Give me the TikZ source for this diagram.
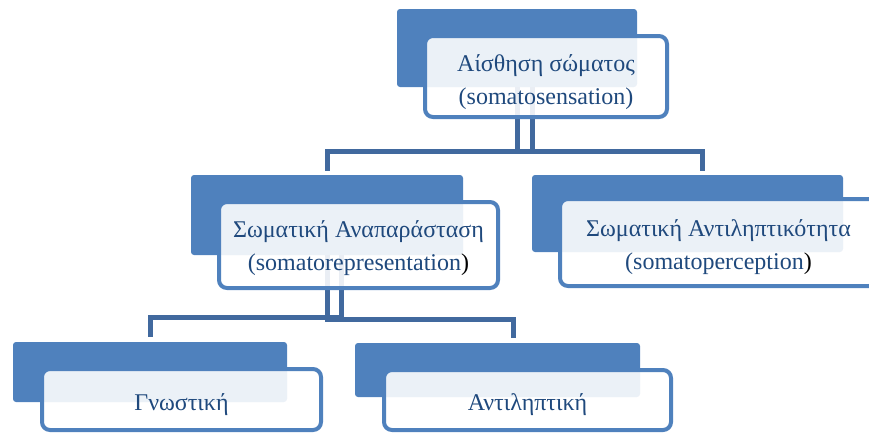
\documentclass[tikz,border=0pt]{standalone}
\usepackage{fontspec}
\setmainfont{Liberation Serif}
\definecolor{accblue}{HTML}{4F81BD}
\definecolor{linkblue}{HTML}{41699E}
\definecolor{txtblue}{HTML}{1F497D}

\begin{document}
\begin{tikzpicture}[x=1pt,y=-1pt]
\tikzstyle{every node}+=[inner sep=0pt,outer sep=0pt]
\tikzstyle{back}=[fill=accblue,rounded corners=3pt,anchor=north west]
\tikzstyle{front}=[draw=accblue,line width=4pt,fill=white,fill opacity=0.89,rounded corners=8pt,anchor=north west]
\tikzstyle{txt}=[align=center,text=txtblue,font=\fontsize{24}{33}\selectfont]
\tikzstyle{link}=[draw=linkblue,line width=5pt]
\useasboundingbox (0,0) rectangle (869,432);
% back plates
\node [back,minimum width=240,minimum height=78] (somaback) at (397,9) {};
\node [back,minimum width=272,minimum height=80] (reprback) at (191,175) {};
\node [back,minimum width=311,minimum height=77] (percback) at (532,175) {};
\node [back,minimum width=274,minimum height=60] (gnosback) at (13,342) {};
\node [back,minimum width=285,minimum height=54] (antiback) at (355,343) {};
% connectors
\draw [link] ([xshift=15pt]somaback.south) -- ++(0,64) -| ([yshift=4pt]reprback.north);
\draw [link] (somaback.south) -- ++(0,64) -| ([xshift=14.5pt,yshift=4pt]percback.north);
\draw [link] ([xshift=14pt]reprback.south) -- ++(0,62.5) -| ([yshift=5pt]gnosback.north);
\draw [link] (reprback.south) -- ++(0,64.5) -| ([xshift=15.5pt,yshift=5pt]antiback.north);
% text boxes
\node [front,minimum width=242,minimum height=81] (soma) at (425,36) {};
\node [front,minimum width=279,minimum height=86] (repr) at (219,202) {};
\node [front,minimum width=317,minimum height=87] (perc) at (560,199) {};
\node [front,minimum width=279,minimum height=61] (gnos) at (42,369) {};
\node [front,minimum width=287,minimum height=60] (anti) at (384,370) {};
% labels
\node [txt] (somatxt) at ([yshift=-6pt]soma.center) {Αίσθηση σώματος\\(somatosensation)};
\node [txt] (reprtxt) at ([yshift=-3pt]repr.center) {Σωματική Αναπαράσταση\\(somatorepresentation{\color{black})}};
\node [txt] (perctxt) at ([yshift=-5pt]perc.center) {Σωματική Αντιληπτικότητα\\(somatoperception{\color{black})}};
\node [txt] (gnostxt) at ([yshift=-5pt]gnos.center) {Γνωστική};
\node [txt] (antitxt) at ([yshift=-5pt]anti.center) {Αντιληπτική};
\end{tikzpicture}
\end{document}
